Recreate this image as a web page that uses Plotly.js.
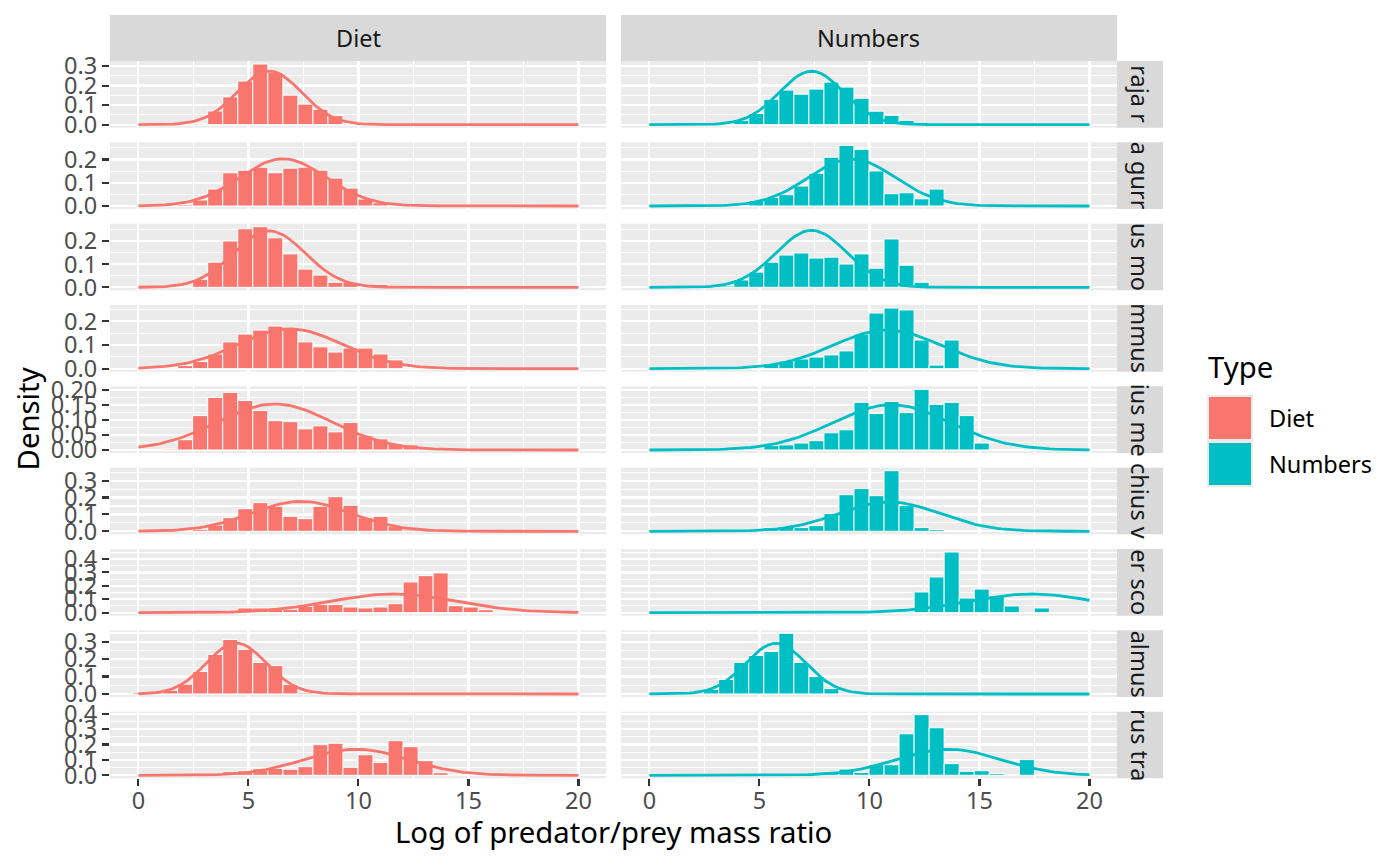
<!DOCTYPE html>
<html>
<head>
<meta charset="utf-8">
<script src="https://cdn.plot.ly/plotly-3.0.1.min.js"></script>
<style>html,body{margin:0;padding:0;background:#fff;}#chart{width:1400px;height:865px;}</style>
</head>
<body>
<div id="chart"></div>
<script>
// ---------------- DATA ----------------
const types = ["Diet", "Numbers"];
const species = ["Amblyraja radiata", "Eutrigla gurnardus", "Gadus morhua", "Melanogrammus aeglefinus",
  "Merlangius merlangus", "Pollachius virens", "Scomber scombrus", "Scophthalmus rhombus", "Trachurus trachurus"];
// visible (clipped) part of each row strip label
const stripLabels = ["raja r", "a gurr", "us mo", "mmus", "ius me", "chius v", "er sco", "almus", "rus tra"];
const binWidth = 0.683;
const firstBinCenter = 0.0765;
const xTickVals = [0, 5, 10, 15, 20];
const yTickStep = [0.1, 0.1, 0.1, 0.1, 0.05, 0.1, 0.1, 0.1, 0.1];
const yTickFormat = [".1f", ".1f", ".1f", ".1f", ".2f", ".1f", ".1f", ".1f", ".1f"];

// histogram densities, 30 bins each (bin 0 .. bin 29)
const dietAmblyraja    = [0,0,0,0,0.005,0.070,0.142,0.223,0.310,0.267,0.151,0.105,0.079,0.046,0.006,0,0,0,0,0,0,0,0,0,0,0,0,0,0,0];
const numbersAmblyraja = [0,0,0,0,0,0,0.022,0.057,0.130,0.177,0.156,0.182,0.218,0.192,0.135,0.069,0.048,0.022,0.012,0,0,0,0,0,0,0,0,0,0,0];
const dietEutrigla     = [0,0,0,0.006,0.026,0.073,0.143,0.154,0.167,0.143,0.163,0.167,0.154,0.120,0.077,0.030,0.014,0.004,0,0,0,0,0,0,0,0,0,0,0,0];
const numbersEutrigla  = [0,0,0,0,0,0,0,0.023,0.037,0.049,0.086,0.141,0.210,0.261,0.244,0.151,0.053,0.057,0.031,0.073,0,0,0,0,0,0,0,0,0,0];
const dietGadus        = [0,0,0,0.004,0.035,0.109,0.201,0.254,0.263,0.215,0.145,0.079,0.053,0.022,0.022,0,0.013,0,0,0,0,0,0,0,0,0,0,0,0,0];
const numbersGadus     = [0,0,0,0,0,0.006,0.032,0.066,0.109,0.140,0.149,0.127,0.131,0.101,0.145,0.083,0.210,0.096,0.022,0,0,0,0,0,0,0,0,0,0,0];
const dietMelanogrammus    = [0,0,0.004,0.013,0.030,0.062,0.113,0.146,0.163,0.180,0.168,0.113,0.092,0.070,0.087,0.087,0.062,0.037,0.005,0,0,0,0,0,0,0,0,0,0,0];
const numbersMelanogrammus = [0,0,0,0,0,0,0,0,0.020,0.032,0.041,0.049,0.058,0.075,0.146,0.235,0.256,0.248,0.121,0.015,0.121,0,0,0,0,0,0,0,0,0];
const dietMerlangius    = [0,0,0.003,0.034,0.114,0.174,0.191,0.164,0.131,0.097,0.094,0.070,0.080,0.060,0.091,0.047,0.037,0.020,0.017,0.010,0,0,0,0,0,0,0,0,0,0];
const numbersMerlangius = [0,0,0,0,0,0,0,0.003,0.015,0.017,0.023,0.031,0.057,0.067,0.158,0.121,0.161,0.124,0.201,0.151,0.158,0.114,0.023,0,0,0,0,0,0,0];
const dietPollachius    = [0,0,0,0.006,0.012,0.037,0.081,0.134,0.170,0.148,0.089,0.075,0.148,0.205,0.154,0.081,0.089,0.028,0.008,0,0,0,0,0,0,0,0,0,0,0];
const numbersPollachius = [0,0,0,0,0,0,0,0,0.022,0.028,0.022,0.034,0.105,0.217,0.253,0.211,0.359,0.152,0.022,0.010,0,0,0,0,0,0,0,0,0,0];
const dietScomber    = [0,0,0,0,0,0,0.017,0.035,0.035,0.035,0.025,0.047,0.060,0.060,0.042,0.035,0.042,0.067,0.229,0.276,0.296,0.052,0.042,0.022,0.007,0,0,0,0,0];
const numbersScomber = [0,0,0,0,0,0,0,0,0,0,0,0,0,0,0,0,0,0.010,0.154,0.266,0.452,0.109,0.176,0.124,0.050,0,0.035,0,0,0];
const dietScophthalmus    = [0.010,0.008,0.022,0.056,0.129,0.227,0.313,0.256,0.181,0.163,0.054,0.008,0,0,0,0,0,0,0,0,0,0,0,0,0,0,0,0,0,0];
const numbersScophthalmus = [0,0,0,0.005,0.027,0.083,0.181,0.221,0.244,0.348,0.181,0.100,0.031,0,0,0,0,0,0,0,0,0,0,0,0,0,0,0,0,0];
const dietTrachurus    = [0,0,0,0,0,0,0.024,0.030,0.043,0.045,0.039,0.056,0.199,0.208,0.052,0.134,0.084,0.225,0.186,0.095,0.017,0.006,0,0,0,0,0,0,0,0];
const numbersTrachurus = [0,0,0,0,0,0,0,0,0,0,0,0,0.024,0.041,0.019,0.069,0.069,0.270,0.394,0.309,0.076,0.026,0.030,0.011,0,0.102,0,0,0,0];

// fitted normal curve parameters (mean, sd of log ratio)
const dietMean    = [5.95, 6.57, 5.95, 6.9, 6.2, 7.4, 11.6, 4.45, 9.9];
const dietSd      = [1.456, 1.965, 1.628, 2.38, 2.62, 2.25, 2.87, 1.366, 2.36];
const numbersMean = [7.37, 9.2, 7.37, 10.8, 11.0, 10.9, 17.4, 5.75, 13.6];
const numbersSd   = [1.461, 1.98, 1.615, 2.45, 2.66, 2.3, 2.87, 1.375, 2.36];

const dietBars = [dietAmblyraja, dietEutrigla, dietGadus, dietMelanogrammus, dietMerlangius, dietPollachius, dietScomber, dietScophthalmus, dietTrachurus];
const numbersBars = [numbersAmblyraja, numbersEutrigla, numbersGadus, numbersMelanogrammus, numbersMerlangius, numbersPollachius, numbersScomber, numbersScophthalmus, numbersTrachurus];

// ---------------- STYLE / GEOMETRY ----------------
const W = 1400, H = 865;
const colors = {Diet: "#F8766D", Numbers: "#00BFC4"};
const colX = [[110, 606], [621, 1117]];
const rowTop0 = 61, rowPitch = 81.33, rowH = 66.7;
const FONT = "Noto Sans, Open Sans, DejaVu Sans, sans-serif";
const binCenters = dietAmblyraja.map((_, k) => firstBinCenter + k * binWidth);
const curveX = [];
for (let i = 0; i <= 100; i++) curveX.push(i * 0.2);
function dnorm(x, m, s) { return Math.exp(-0.5 * ((x - m) / s) ** 2) / (s * Math.sqrt(2 * Math.PI)); }

const traces = [];
const layout = {
  width: W, height: H,
  margin: {l: 0, r: 0, t: 0, b: 0},
  paper_bgcolor: "#FFFFFF",
  plot_bgcolor: "#EBEBEB",
  showlegend: false,
  barmode: "overlay",
  font: {family: FONT},
  shapes: [], annotations: []
};
const px = v => v / W, py = v => 1 - v / H;

for (let r = 0; r < 9; r++) {
  const top = rowTop0 + r * rowPitch, bot = top + rowH;
  const curves = [curveX.map(x => dnorm(x, dietMean[r], dietSd[r])), curveX.map(x => dnorm(x, numbersMean[r], numbersSd[r]))];
  const bars = [dietBars[r], numbersBars[r]];
  const M = Math.max(...bars[0], ...bars[1], ...curves[0], ...curves[1]);
  const yr = [-0.05 * M, 1.05 * M];
  for (let c = 0; c < 2; c++) {
    const idx = r * 2 + c + 1;
    const xk = "xaxis" + (idx === 1 ? "" : idx), yk = "yaxis" + (idx === 1 ? "" : idx);
    const xa = "x" + (idx === 1 ? "" : idx), ya = "y" + (idx === 1 ? "" : idx);
    const col = colors[types[c]];
    traces.push({type: "bar", x: binCenters, y: bars[c], width: binWidth, xaxis: xa, yaxis: ya,
      marker: {color: col, line: {color: "#FFFFFF", width: 1}}, hoverinfo: "skip"});
    traces.push({type: "scatter", mode: "lines", x: curveX, y: curves[c], xaxis: xa, yaxis: ya,
      line: {color: col, width: 2.8}, hoverinfo: "skip"});
    const bottomRow = r === 8;
    layout[xk] = {
      domain: [px(colX[c][0]), px(colX[c][1])], anchor: ya, range: [-1.29, 21.25],
      tickvals: xTickVals, ticktext: xTickVals.map(String),
      showgrid: true, gridcolor: "#FFFFFF", gridwidth: 2.2, zeroline: false, showline: false,
      minor: {tickvals: [2.5, 7.5, 12.5, 17.5], showgrid: true, gridcolor: "#FFFFFF", gridwidth: 1.1, ticks: ""},
      showticklabels: bottomRow, ticks: bottomRow ? "outside" : "", ticklen: 7, tickwidth: 2.1, tickcolor: "#333333",
      ticklabelstandoff: -6,
      tickfont: {family: FONT, size: 23.5, color: "#4D4D4D"}, fixedrange: true
    };
    layout[yk] = {
      domain: [py(bot), py(top)], anchor: xa, range: yr,
      tick0: 0, dtick: yTickStep[r], tickformat: yTickFormat[r],
      showgrid: true, gridcolor: "#FFFFFF", gridwidth: 2.2, zeroline: false, showline: false,
      minor: {dtick: yTickStep[r] / 2, tick0: 0, showgrid: true, gridcolor: "#FFFFFF", gridwidth: 1.1, ticks: ""},
      showticklabels: c === 0, ticks: c === 0 ? "outside" : "", ticklen: 7, tickwidth: 2.1, tickcolor: "#333333",
      tickfont: {family: FONT, size: 23.5, color: "#4D4D4D"}, fixedrange: true
    };
  }
  // right strip
  layout.shapes.push({type: "rect", xref: "paper", yref: "paper", x0: px(1117), x1: px(1163), y0: py(bot), y1: py(top),
    fillcolor: "#D9D9D9", line: {width: 0}, layer: "below"});
  layout.annotations.push({xref: "paper", yref: "paper", x: px(1140), y: py((top + bot) / 2), text: stripLabels[r],
    textangle: 90, showarrow: false, xanchor: "center", yanchor: "middle",
    font: {family: FONT, size: 23.5, color: "#1A1A1A"}});
}
// top strips
for (let c = 0; c < 2; c++) {
  layout.shapes.push({type: "rect", xref: "paper", yref: "paper", x0: px(colX[c][0]), x1: px(colX[c][1]), y0: py(61), y1: py(15),
    fillcolor: "#D9D9D9", line: {width: 0}, layer: "below"});
  layout.annotations.push({xref: "paper", yref: "paper", x: px((colX[c][0] + colX[c][1]) / 2), y: py(38), text: types[c],
    showarrow: false, xanchor: "center", yanchor: "middle", font: {family: FONT, size: 23.5, color: "#1A1A1A"}});
}
// axis titles
layout.annotations.push({xref: "paper", yref: "paper", x: px(613.5), y: py(832), text: "Log of predator/prey mass ratio",
  showarrow: false, xanchor: "center", yanchor: "middle", font: {family: FONT, size: 29.3, color: "#000000"}});
layout.annotations.push({xref: "paper", yref: "paper", x: px(28), y: py(419.5), text: "Density", textangle: -90,
  showarrow: false, xanchor: "center", yanchor: "middle", font: {family: FONT, size: 29.3, color: "#000000"}});
// legend
layout.annotations.push({xref: "paper", yref: "paper", x: px(1206), y: py(367), text: "Type",
  showarrow: false, xanchor: "left", yanchor: "middle", font: {family: FONT, size: 29.3, color: "#000000"}});
layout.shapes.push({type: "rect", xref: "paper", yref: "paper", x0: px(1207), x1: px(1253), y0: py(487), y1: py(395),
  fillcolor: "#EBEBEB", line: {width: 0}});
const keyY = [[397, 439], [443, 485]];
for (let c = 0; c < 2; c++) {
  layout.shapes.push({type: "rect", xref: "paper", yref: "paper", x0: px(1209), x1: px(1251), y0: py(keyY[c][1]), y1: py(keyY[c][0]),
    fillcolor: colors[types[c]], line: {width: 0}});
  layout.annotations.push({xref: "paper", yref: "paper", x: px(1267), y: py((keyY[c][0] + keyY[c][1]) / 2), text: types[c],
    showarrow: false, xanchor: "left", yanchor: "middle", font: {family: FONT, size: 23.5, color: "#000000"}});
}

Plotly.newPlot("chart", traces, layout, {displayModeBar: false, staticPlot: true});
</script>
</body>
</html>
